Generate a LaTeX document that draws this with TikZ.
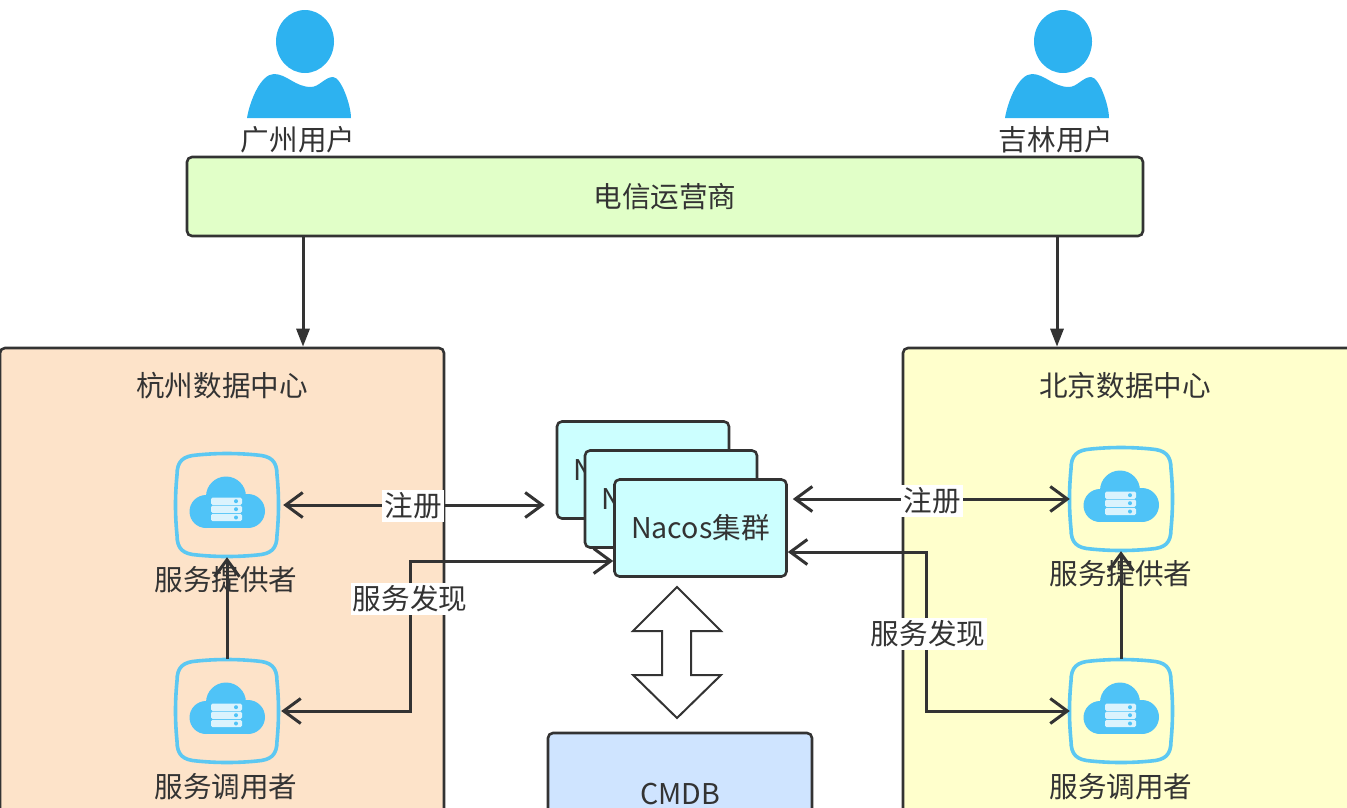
\documentclass[tikz,border=0pt]{standalone}
\usepackage{fontspec}
\setmainfont{Noto Sans CJK SC}
\usetikzlibrary{calc, arrows.meta}
\definecolor{inkgray}{HTML}{333333}
\definecolor{personblue}{HTML}{2DB2F0}
\definecolor{iconblue}{HTML}{4FC3F7}
\definecolor{framecyan}{HTML}{5CC8F2}
\definecolor{nacoscyan}{HTML}{CCFFFF}
\tikzset{
    label text/.style={font=\fontsize{28.6}{32}\selectfont, text=inkgray, inner sep=2pt, yshift=-1pt},
    white text/.style={label text, fill=white, inner ysep=3pt},
    card/.style={draw=inkgray, line width=2.6pt, rounded corners=5pt, inner sep=0pt, font=\fontsize{28.6}{32}\selectfont, text=inkgray},
    nacos card/.style={card, fill=nacoscyan, minimum width=172pt, minimum height=97pt},
    icon spot/.style={minimum width=102pt, minimum height=104pt, inner sep=0pt},
    barb/.style={draw=inkgray, line width=3pt, {Straight Barb[length=17pt,width=25pt]}-{Straight Barb[length=17pt,width=25pt]}},
    one barb/.style={draw=inkgray, line width=3pt, -{Straight Barb[length=17pt,width=25pt]}},
    solid tip/.style={draw=inkgray, line width=3pt, -{Triangle[length=18pt,width=13pt]}},
    person/.pic={
        \fill[personblue] (58,41.5) ellipse (29 and 31.5);
        \fill[personblue] (0,118) .. controls (3,100) and (14,74) .. (27,74)
            .. controls (40,74) and (48,87) .. (64,87)
            .. controls (72,87) and (78,77) .. (86,77)
            .. controls (94,77) and (104,105) .. (104,118) -- cycle;
    },
    cloud icon/.pic={
        \draw[framecyan, line width=3.6pt] (-50,-30) .. controls (-50,-44) and (-44,-49) .. (-30,-50)
            .. controls (-10,-52) and (10,-52) .. (30,-50)
            .. controls (44,-49) and (50,-44) .. (50,-30)
            .. controls (52,-10) and (52,10) .. (50,30)
            .. controls (50,44) and (44,49) .. (30,50)
            .. controls (10,52) and (-10,52) .. (-30,50)
            .. controls (-44,49) and (-50,44) .. (-50,30)
            .. controls (-52,10) and (-52,-10) .. (-50,-30) -- cycle;
        \fill[iconblue] (-1,-8.5) circle (20);
        \fill[iconblue] (-21,6.5) circle (16.5);
        \fill[iconblue] (21,6) circle (17);
        \fill[iconblue] (-22,-9) rectangle (22,23);
        \foreach \rowy in {-3.8,4.2,12.5} {
            \fill[white, opacity=.8, rounded corners=1.5pt] (-16,\rowy-3.7) rectangle (15,\rowy+3.7);
            \fill[iconblue] (9,\rowy) circle (2);
        }
    }
}

\begin{document}
\begin{tikzpicture}[x=1pt, y=-1pt]
    \clip (0,0) rectangle (1347,807);
    \pic at (247,0) {person};
    \pic at (1005,0) {person};
    \node[label text] (gzUser) at (298,139) {广州用户};
    \node[label text] (jlUser) at (1056,139) {吉林用户};
    \node[card, fill={rgb,255:red,225;green,255;blue,200}, minimum width=956pt, minimum height=79pt] (telecom) at (665,196.5) {电信运营商};
    \node[card, fill={rgb,255:red,253;green,227;blue,201}, minimum width=444pt, minimum height=482pt] (hzCenter) at (222,589) {};
    \node[card, fill={rgb,255:red,255;green,255;blue,204}, minimum width=457pt, minimum height=482pt] (bjCenter) at (1131.5,589) {};
    \node[label text] (hzTitle) at (222,385) {杭州数据中心};
    \node[label text] (bjTitle) at (1125,385) {北京数据中心};
    \node[nacos card] (nacosA) at (643,470) {Nacos集群};
    \node[nacos card] (nacosB) at (671,499) {Nacos集群};
    \node[nacos card] (nacosC) at (700.5,528) {Nacos集群};
    \node[card, fill={rgb,255:red,207;green,228;blue,255}, minimum width=264pt, minimum height=97pt] (cmdb) at (680,781.5) {};
    \node[label text] (cmdbText) at (680,793) {CMDB};
    \draw[inkgray, line width=2pt, fill=white, line join=miter] (677,587) -- (721,631) -- (691,631) -- (691,675) -- (721,675)
        -- (677,718) -- (633,675) -- (662,675) -- (662,631) -- (633,631) -- cycle;

    \node[icon spot] (hzProvider) at (227,505) {};
    \node[icon spot] (hzConsumer) at (227,711) {};
    \node[icon spot] (bjProvider) at (1121,499) {};
    \node[icon spot] (bjConsumer) at (1121,711) {};
    \pic at (hzProvider) {cloud icon};
    \pic at (hzConsumer) {cloud icon};
    \pic at (bjProvider) {cloud icon};
    \pic at (bjConsumer) {cloud icon};
    \node[label text] (hzProviderText) at (226,579) {服务提供者};
    \node[label text] (hzConsumerText) at (226,786) {服务调用者};
    \node[label text] (bjProviderText) at (1121,573) {服务提供者};
    \node[label text] (bjConsumerText) at (1121,786) {服务调用者};

    \coordinate (hzDrop) at (303,290);
    \coordinate (bjDrop) at (1057,290);
    \coordinate (hzBend) at (410,561);
    \coordinate (bjBend) at (926,552);
    \draw[solid tip] (hzDrop |- telecom.south) -- (hzDrop |- hzCenter.north);
    \draw[solid tip] (bjDrop |- telecom.south) -- (bjDrop |- bjCenter.north);
    \draw[one barb] (hzConsumer.north) -- (hzProvider.south);
    \draw[one barb] (bjConsumer.north) -- (bjProvider.south);
    \draw[barb, shorten <=5pt, shorten >=11pt] (hzProvider.east) -- (hzProvider.east -| nacosA.west);
    \draw[barb, shorten <=5pt] (bjProvider.west -| nacosC.east) -- (bjProvider.west);
    \draw[barb, shorten <=3pt] (hzConsumer.east) -| (hzBend) -- (hzBend -| nacosC.west);
    \draw[barb] (bjBend -| nacosC.east) -- (bjBend) |- (bjConsumer.west);
    \node[white text] (hzRegister) at (413,505) {注册};
    \node[white text] (bjRegister) at (932,500) {注册};
    \node[white text] (hzDiscover) at (410,598) {服务发现};
    \node[white text] (bjDiscover) at (928,633) {服务发现};
\end{tikzpicture}
\end{document}
